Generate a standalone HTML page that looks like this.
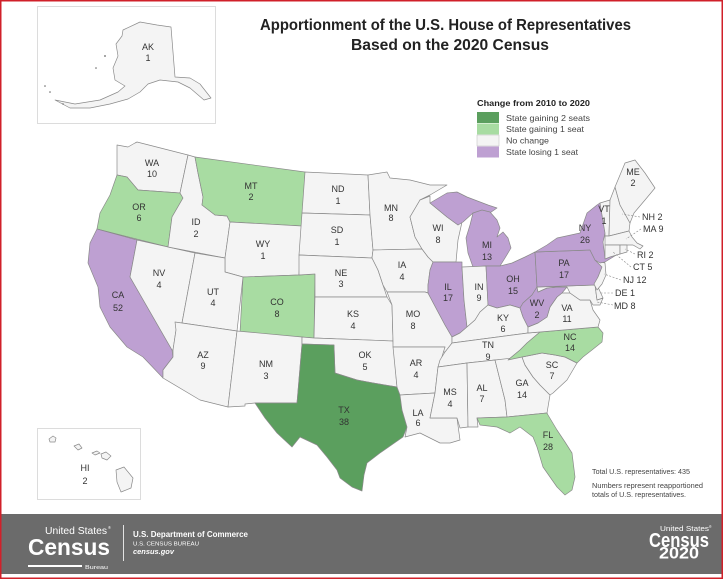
<!DOCTYPE html>
<html><head><meta charset="utf-8">
<style>
html,body{margin:0;padding:0;background:#fff;}
svg{display:block;}
text{font-family:"Liberation Sans",sans-serif;}
.s{stroke:#8a8a8a;stroke-width:0.7;stroke-linejoin:round;}
.n{fill:#f4f4f4;}
.g1{fill:#a8dca2;}
.g2{fill:#5b9f5e;}
.p{fill:#bea0d2;}
.lb text{font-size:9px;fill:#333;text-anchor:middle;}
.side text{font-size:9px;fill:#333;}
.ld{stroke:#888;stroke-width:0.6;stroke-dasharray:2,1.5;fill:none;}
</style></head>
<body>
<svg width="724" height="580" viewBox="0 0 724 580" xmlns="http://www.w3.org/2000/svg">
<rect x="0" y="0" width="724" height="580" fill="#fff"/>

<!-- Title -->
<text x="260" y="30" font-size="15.5" font-weight="bold" fill="#222" textLength="371" lengthAdjust="spacingAndGlyphs">Apportionment of the U.S. House of Representatives</text>
<text x="351" y="50" font-size="15.5" font-weight="bold" fill="#222" textLength="198" lengthAdjust="spacingAndGlyphs">Based on the 2020 Census</text>

<!-- Alaska inset -->
<rect x="37.5" y="6.5" width="178" height="117" fill="none" stroke="#d4d4d4" stroke-width="0.8"/>
<path class="s n" d="M123,30 L140,22 L157,25 L171,27 L175,77 L190,78 L200,84 L211,98 L204,100 L190,88 L178,82 L160,80 L148,84 L140,92 L128,99 L110,104 L90,108 L70,108 L55,100 L75,104 L100,100 L118,92 L125,86 L115,80 L113,68 L118,56 L116,44 L122,36 Z"/>
<circle cx="45" cy="86" r="0.8" fill="#666"/><circle cx="50" cy="92" r="0.8" fill="#666"/>
<circle cx="105" cy="56" r="0.9" fill="#666"/><circle cx="96" cy="68" r="0.8" fill="#666"/>
<circle cx="63" cy="104" r="0.7" fill="#666"/>

<!-- Hawaii inset -->
<rect x="37.5" y="428.5" width="103" height="71" fill="none" stroke="#d4d4d4" stroke-width="0.8"/>
<g class="s n">
<path d="M49,439 L53,436 L56,438 L55,442 L50,442 Z"/>
<path d="M74,446 L79,444 L82,448 L78,450 Z"/>
<path d="M92,453 L97,451 L100,453 L95,455 Z"/>
<path d="M101,454 L106,452 L111,456 L107,460 L102,458 Z"/>
<path d="M116,470 L124,467 L133,478 L131,488 L121,492 L117,482 Z"/>
</g>

<!-- States -->
<g class="s">
<path class="n" d="M117,145 L128,147 L135,143 L137,142 L188,155 L180,193 L138,190 L127,177 L117,175 Z"/>
<path class="g1" d="M117,175 L127,177 L138,190 L180,193 L183,198 L172,217 L168,247 L97,229 L100,213 L110,195 Z"/>
<path class="p" d="M97,229 L137,240 L130,277 L172,350 L173,357 L163,370 L163,378 L143,357 L127,347 L110,327 L100,307 L98,287 L88,263 L90,243 Z"/>
<path class="n" d="M137,240 L195,253 L182,323 L176,330 L173,350 L172,350 L130,277 Z"/>
<path class="n" d="M188,155 L195,157 L198,173 L203,197 L202,205 L215,215 L227,216 L230,222 L225,258 L168,247 L172,217 L183,198 L180,193 Z"/>
<path class="g1" d="M195,157 L305,172 L302,226 L230,222 L227,216 L215,215 L202,205 L203,197 L198,173 Z"/>
<path class="n" d="M230,222 L302,226 L299,275 L243,277 L225,272 L225,258 Z"/>
<path class="n" d="M195,253 L225,258 L225,272 L243,277 L237,331 L182,323 Z"/>
<path class="g1" d="M243,277 L299,275 L315,274 L314,338 L240,333 Z"/>
<path class="n" d="M175,322 L182,323 L237,331 L228,407 L200,400 L163,378 L163,370 L173,357 L173,350 L176,330 Z"/>
<path class="n" d="M237,331 L302,337 L302,344 L297,403 L255,403 L245,404 L245,406 L228,407 Z"/>
<path class="n" d="M305,172 L368,175 L370,215 L302,213 Z"/>
<path class="n" d="M302,213 L370,215 L373,250 L372,258 L299,255 Z"/>
<path class="n" d="M299,255 L372,258 L378,270 L383,285 L387,297 L315,297 L315,274 L299,275 Z"/>
<path class="n" d="M315,297 L387,297 L392,305 L393,341 L314,338 Z"/>
<path class="n" d="M302,337 L314,338 L393,341 L397,387 L373,383 L357,380 L335,373 L334,345 L302,344 Z"/>
<path class="g2" d="M302,344 L334,345 L335,373 L357,380 L373,383 L397,387 L400,395 L402,410 L407,427 L403,437 L380,453 L367,463 L364,475 L362,491 L352,487 L340,478 L337,470 L327,457 L317,445 L300,437 L292,447 L277,433 L265,418 L255,403 L297,403 Z"/>
<path class="n" d="M368,175 L387,172 L390,178 L410,180 L430,185 L447,185 L430,195 L420,200 L410,217 L415,237 L422,249 L373,250 L370,215 Z"/>
<path class="n" d="M373,250 L422,249 L428,257 L433,262 L430,270 L428,285 L428,293 L425,292 L387,292 L383,285 L378,270 L372,258 Z"/>
<path class="n" d="M387,292 L425,292 L428,293 L437,310 L445,325 L452,337 L452,343 L446,352 L442,352 L445,347 L393,347 L393,341 L392,305 Z"/>
<path class="n" d="M393,347 L445,347 L440,363 L438,367 L435,393 L400,395 L397,387 Z"/>
<path class="n" d="M400,395 L435,393 L430,418 L457,418 L460,440 L450,443 L440,443 L420,433 L405,437 L407,427 L402,410 Z"/>
<path class="n" d="M420,200 L430,196 L430,203 L447,217 L458,225 L462,222 L458,240 L456,262 L433,262 L428,257 L422,249 L415,237 L410,217 Z"/>
<path class="p" d="M430,203 L447,193 L457,192 L467,197 L488,205 L497,208 L487,215 L473,213 L463,222 L458,225 L447,217 Z"/>
<path class="p" d="M473,213 L482,210 L490,212 L497,220 L500,228 L497,237 L503,232 L508,238 L511,248 L505,258 L500,266 L486,266 L473,267 L468,253 L466,238 L470,225 Z"/>
<path class="p" d="M433,262 L462,262 L462,267 L464,300 L467,327 L460,333 L452,337 L445,325 L437,310 L428,293 L428,285 L430,270 Z"/>
<path class="n" d="M462,267 L486,266 L488,305 L480,312 L475,320 L467,327 L464,300 Z"/>
<path class="p" d="M486,266 L500,266 L512,263 L525,257 L535,252 L537,287 L532,295 L523,303 L520,308 L510,305 L497,308 L488,305 Z"/>
<path class="n" d="M452,343 L452,337 L460,333 L467,327 L475,320 L480,312 L488,305 L497,308 L510,305 L520,308 L523,317 L528,327 L528,333 Z"/>
<path class="n" d="M452,343 L528,333 L540,332 L527,343 L520,350 L508,360 L495,360 L467,363 L438,367 L440,360 L445,352 Z"/>
<path class="n" d="M438,367 L467,363 L468,427 L460,428 L457,418 L430,418 L435,393 Z"/>
<path class="n" d="M467,363 L495,360 L505,400 L507,417 L477,418 L478,427 L468,427 Z"/>
<path class="n" d="M495,360 L522,357 L525,365 L533,377 L540,385 L550,395 L547,413 L507,417 L505,400 Z"/>
<path class="n" d="M522,357 L542,353 L555,355 L565,357 L577,363 L567,380 L553,393 L550,395 L540,385 L533,377 L525,365 Z"/>
<path class="g1" d="M508,360 L520,350 L527,343 L540,332 L598,327 L603,333 L602,342 L592,350 L583,357 L577,363 L565,357 L555,355 L542,353 L522,357 Z"/>
<path class="g1" d="M477,418 L507,417 L547,413 L548,415 L557,430 L565,442 L572,453 L575,477 L572,490 L565,495 L557,487 L543,467 L537,447 L533,437 L520,427 L510,433 L497,427 L480,425 Z"/>
<path class="n" d="M528,333 L528,327 L538,323 L547,317 L550,307 L557,297 L562,293 L570,293 L580,300 L590,300 L593,310 L600,320 L598,327 L540,332 Z"/>
<path class="p" d="M537,287 L538,292 L547,288 L557,287 L567,287 L562,293 L557,297 L550,307 L547,317 L538,323 L528,327 L523,317 L520,308 L523,303 L532,295 Z"/>
<path class="n" d="M537,287 L595,285 L597,300 L603,298 L600,305 L593,305 L590,300 L580,300 L570,293 L567,287 L557,287 L547,288 L538,292 Z"/>
<path class="n" d="M595,285 L598,287 L603,298 L597,300 Z"/>
<path class="p" d="M535,252 L590,250 L595,260 L602,267 L598,277 L595,285 L537,287 Z"/>
<path class="n" d="M595,260 L605,263 L606,275 L602,284 L597,290 L594,284 L598,277 L602,267 Z"/>
<path class="p" d="M535,252 L547,245 L557,238 L580,233 L587,213 L597,205 L600,203 L605,233 L603,242 L605,258 L618,254 L605,262 L600,263 L595,260 L590,250 Z"/>
<path class="n" d="M600,203 L610,200 L609,236 L605,236 L605,233 Z"/>
<path class="n" d="M610,200 L615,187 L620,205 L630,223 L629,231 L609,236 Z"/>
<path class="n" d="M615,187 L625,163 L635,160 L645,173 L655,188 L645,200 L634,213 L630,223 L620,205 Z"/>
<path class="n" d="M605,236 L609,236 L629,231 L632,237 L637,243 L643,246 L640,249 L633,245 L627,245 L605,245 Z"/>
<path class="n" d="M605,245 L620,245 L620,254 L610,257 L605,259 Z"/>
<path class="n" d="M620,245 L627,245 L627,252 L620,254 Z"/>
</g>

<!-- Leader lines -->
<path class="ld" d="M640,217 L622,214"/>
<path class="ld" d="M641,229 L626,239"/>
<path class="ld" d="M635,254 L625,249"/>
<path class="ld" d="M631,267 L613,252"/>
<path class="ld" d="M621,280 L604,274"/>
<path class="ld" d="M613,293 L600,293"/>
<path class="ld" d="M613,305 L597,302"/>

<!-- State labels -->
<g class="lb">
<text x="148" y="50">AK</text><text x="148" y="61">1</text>
<text x="152" y="166">WA</text><text x="152" y="177">10</text>
<text x="139" y="210">OR</text><text x="139" y="221">6</text>
<text x="251" y="189">MT</text><text x="251" y="200">2</text>
<text x="196" y="225">ID</text><text x="196" y="237">2</text>
<text x="263" y="247">WY</text><text x="263" y="259">1</text>
<text x="338" y="192">ND</text><text x="338" y="204">1</text>
<text x="337" y="233">SD</text><text x="337" y="245">1</text>
<text x="341" y="276">NE</text><text x="341" y="287">3</text>
<text x="159" y="276">NV</text><text x="159" y="288">4</text>
<text x="213" y="295">UT</text><text x="213" y="306">4</text>
<text x="118" y="298">CA</text><text x="118" y="311">52</text>
<text x="277" y="305">CO</text><text x="277" y="317">8</text>
<text x="353" y="317">KS</text><text x="353" y="329">4</text>
<text x="203" y="358">AZ</text><text x="203" y="369">9</text>
<text x="266" y="367">NM</text><text x="266" y="379">3</text>
<text x="344" y="413">TX</text><text x="344" y="425">38</text>
<text x="365" y="358">OK</text><text x="365" y="370">5</text>
<text x="391" y="211">MN</text><text x="391" y="221">8</text>
<text x="438" y="231">WI</text><text x="438" y="243">8</text>
<text x="402" y="268">IA</text><text x="402" y="280">4</text>
<text x="413" y="317">MO</text><text x="413" y="329">8</text>
<text x="448" y="290">IL</text><text x="448" y="301">17</text>
<text x="479" y="290">IN</text><text x="479" y="301">9</text>
<text x="487" y="248">MI</text><text x="487" y="260">13</text>
<text x="513" y="282">OH</text><text x="513" y="294">15</text>
<text x="564" y="266">PA</text><text x="564" y="278">17</text>
<text x="585" y="231">NY</text><text x="585" y="243">26</text>
<text x="604" y="212">VT</text><text x="604" y="224">1</text>
<text x="537" y="306">WV</text><text x="537" y="318">2</text>
<text x="567" y="311">VA</text><text x="567" y="322">11</text>
<text x="503" y="321">KY</text><text x="503" y="332">6</text>
<text x="488" y="348">TN</text><text x="488" y="360">9</text>
<text x="570" y="340">NC</text><text x="570" y="351">14</text>
<text x="552" y="368">SC</text><text x="552" y="379">7</text>
<text x="522" y="386">GA</text><text x="522" y="398">14</text>
<text x="482" y="391">AL</text><text x="482" y="402">7</text>
<text x="450" y="395">MS</text><text x="450" y="407">4</text>
<text x="416" y="366">AR</text><text x="416" y="378">4</text>
<text x="418" y="416">LA</text><text x="418" y="426">6</text>
<text x="548" y="438">FL</text><text x="548" y="450">28</text>
<text x="85" y="471">HI</text><text x="85" y="484">2</text>
<text x="633" y="175">ME</text><text x="633" y="186">2</text>
</g>
<g class="side">
<text x="642" y="220">NH  2</text>
<text x="643" y="232">MA  9</text>
<text x="637" y="258">RI  2</text>
<text x="633" y="270">CT  5</text>
<text x="623" y="283">NJ  12</text>
<text x="615" y="296">DE  1</text>
<text x="614" y="309">MD  8</text>
</g>

<!-- Legend -->
<text x="477" y="106" font-size="8.5" font-weight="bold" fill="#222" textLength="113" lengthAdjust="spacingAndGlyphs">Change from 2010 to 2020</text>
<rect x="477" y="112" width="22" height="11" fill="#5b9f5e"/>
<rect x="477" y="123.5" width="22" height="11" fill="#a8dca2"/>
<rect x="477" y="135" width="22" height="11" fill="#f4f4f4" stroke="#bbb" stroke-width="0.5"/>
<rect x="477" y="146.5" width="22" height="11" fill="#bea0d2"/>
<g font-size="8.5" fill="#444">
<text x="506" y="121" textLength="84" lengthAdjust="spacingAndGlyphs">State gaining 2 seats</text>
<text x="506" y="132" textLength="78" lengthAdjust="spacingAndGlyphs">State gaining 1 seat</text>
<text x="506" y="143.5" textLength="43" lengthAdjust="spacingAndGlyphs">No change</text>
<text x="506" y="155" textLength="72" lengthAdjust="spacingAndGlyphs">State losing 1 seat</text>
</g>

<!-- Notes -->
<g font-size="7" fill="#444">
<text x="592" y="474" textLength="98" lengthAdjust="spacingAndGlyphs">Total U.S. representatives: 435</text>
<text x="592" y="488" textLength="111" lengthAdjust="spacingAndGlyphs">Numbers represent reapportioned</text>
<text x="592" y="497" textLength="94" lengthAdjust="spacingAndGlyphs">totals of U.S. representatives.</text>
</g>

<!-- Footer -->
<rect x="1" y="514" width="721" height="60" fill="#6b6b6b"/>
<g fill="#fff">
<text x="45" y="534" font-size="10" textLength="62" lengthAdjust="spacingAndGlyphs">United States</text>
<text x="108" y="529" font-size="4">®</text>
<text x="28" y="555" font-size="23" font-weight="bold" textLength="82" lengthAdjust="spacingAndGlyphs">Census</text>
<rect x="28" y="565" width="54" height="2"/>
<text x="85" y="569" font-size="5.5" textLength="23" lengthAdjust="spacingAndGlyphs">Bureau</text>
<rect x="123" y="525" width="0.8" height="36"/>
<text x="133" y="537" font-size="8" font-weight="bold" textLength="115" lengthAdjust="spacingAndGlyphs">U.S. Department of Commerce</text>
<text x="133" y="545.5" font-size="5.8" textLength="66" lengthAdjust="spacingAndGlyphs">U.S. CENSUS BUREAU</text>
<text x="133" y="554" font-size="7.5" font-weight="bold" font-style="italic" textLength="41" lengthAdjust="spacingAndGlyphs">census.gov</text>
<text x="660" y="531" font-size="7" font-family="Liberation Serif, serif" textLength="49" lengthAdjust="spacingAndGlyphs">United States</text>
<text x="709" y="528" font-size="3.5">®</text>
<text x="649" y="547" font-size="20" font-weight="bold" textLength="60" lengthAdjust="spacingAndGlyphs">Census</text>
<text x="659" y="558.5" font-size="17" font-weight="bold" textLength="40" lengthAdjust="spacingAndGlyphs">2020</text>
</g>

<!-- Red frame -->
<rect x="0.75" y="0.75" width="721.5" height="577.5" fill="none" stroke="#d0202a" stroke-width="1.5"/>
</svg>
</body></html>
